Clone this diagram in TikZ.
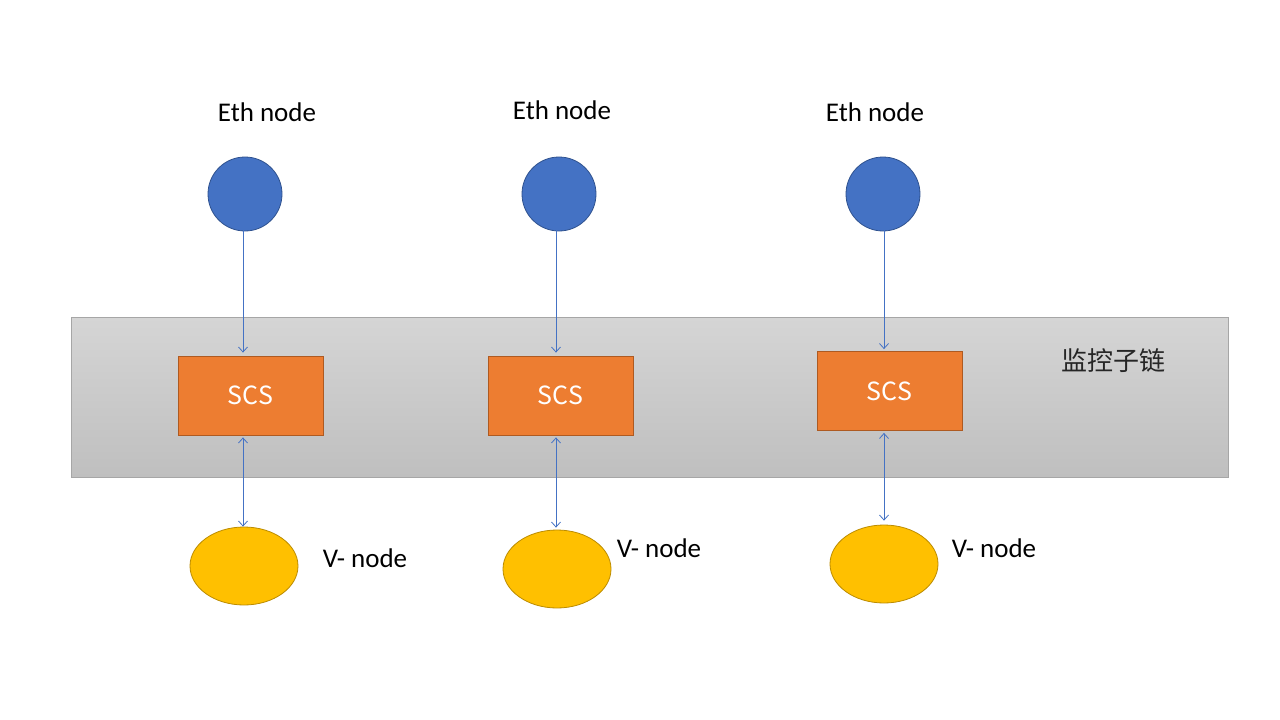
\documentclass[tikz,border=0pt]{standalone}
\usepackage{fontspec}
\setmainfont{Carlito}
\newfontfamily\cjk{Noto Sans CJK SC}
\usetikzlibrary{arrows.meta,shapes.geometric}
\definecolor{ethblue}{HTML}{4472C4}
\definecolor{ethborder}{HTML}{2F528F}
\definecolor{scsorange}{HTML}{ED7D31}
\definecolor{scsborder}{HTML}{AE5A21}
\definecolor{vyellow}{HTML}{FFC000}
\definecolor{vborder}{HTML}{BC8C00}
\definecolor{bandtop}{HTML}{D5D5D5}
\definecolor{bandbot}{HTML}{BFBFBF}
\definecolor{bandborder}{HTML}{A6A6A6}
\begin{document}
\begin{tikzpicture}[x=1pt,y=-1pt,
  ethnode/.style={circle,fill=ethblue,draw=ethborder,line width=0.8pt,minimum size=74pt,inner sep=0pt},
  scsbox/.style={rectangle,fill=scsorange,draw=scsborder,line width=0.8pt,minimum width=145pt,minimum height=79pt,text=white,font=\cjk\fontsize{25}{29}\selectfont},
  vnode/.style={ellipse,fill=vyellow,draw=vborder,line width=0.8pt,minimum width=108pt,minimum height=78pt,inner sep=0pt},
  lbl/.style={font=\fontsize{27}{31}\selectfont,text=black,inner sep=0pt},
  conn/.style={draw=ethblue,line width=0.8pt,-{Straight Barb[length=5pt,width=9pt]}},
  dconn/.style={draw=ethblue,line width=0.8pt,{Straight Barb[length=5pt,width=9pt]}-{Straight Barb[length=5pt,width=9pt]}}]
\useasboundingbox (0,0) rectangle (1280,720);
\fill[white] (0,0) rectangle (1280,720);
% band
\node[rectangle,top color=bandtop,bottom color=bandbot,draw=bandborder,line width=0.8pt,minimum width=1157pt,minimum height=160pt,inner sep=0pt] (band) at (649.5,397) {};
\node[inner sep=0pt,font=\cjk\fontsize{26}{30}\selectfont,text=black!85] (chain) at (1113,361) {监控子链};
% eth nodes
\node[ethnode] (e1) at (245,194) {};
\node[ethnode] (e2) at (559,194) {};
\node[ethnode] (e3) at (883,194) {};
\node[lbl] (t1) at (267,112) {Eth node};
\node[lbl] (t2) at (562,110) {Eth node};
\node[lbl] (t3) at (875,112) {Eth node};
% scs
\node[scsbox] (s1) at (250.5,395.5) {SCS};
\node[scsbox] (s2) at (560.5,395.5) {SCS};
\node[scsbox] (s3) at (889.5,391) {SCS};
% v nodes
\node[vnode] (v1) at (244,566) {};
\node[vnode] (v2) at (557,569) {};
\node[vnode] (v3) at (884,564) {};
\node[lbl] (w1) at (365,558) {V- node};
\node[lbl] (w2) at (659,548) {V- node};
\node[lbl] (w3) at (994,548) {V- node};
% connectors
\coordinate (a1) at (243,230); \coordinate (a2) at (556,230); \coordinate (a3) at (884,230);
\draw[conn,shorten >=3pt] (a1) -- (a1 |- s1.north);
\draw[conn,shorten >=3pt] (a2) -- (a2 |- s2.north);
\draw[conn,shorten >=2pt] (a3) -- (a3 |- s3.north);
\draw[dconn,shorten <=2pt] (a1 |- s1.south) -- (a1 |- v1.north);
\draw[dconn,shorten <=2pt,shorten >=2pt] (a2 |- s2.south) -- (a2 |- v2.north);
\draw[dconn,shorten <=2pt,shorten >=4pt] (a3 |- s3.south) -- (a3 |- v3.north);
\end{tikzpicture}
\end{document}
